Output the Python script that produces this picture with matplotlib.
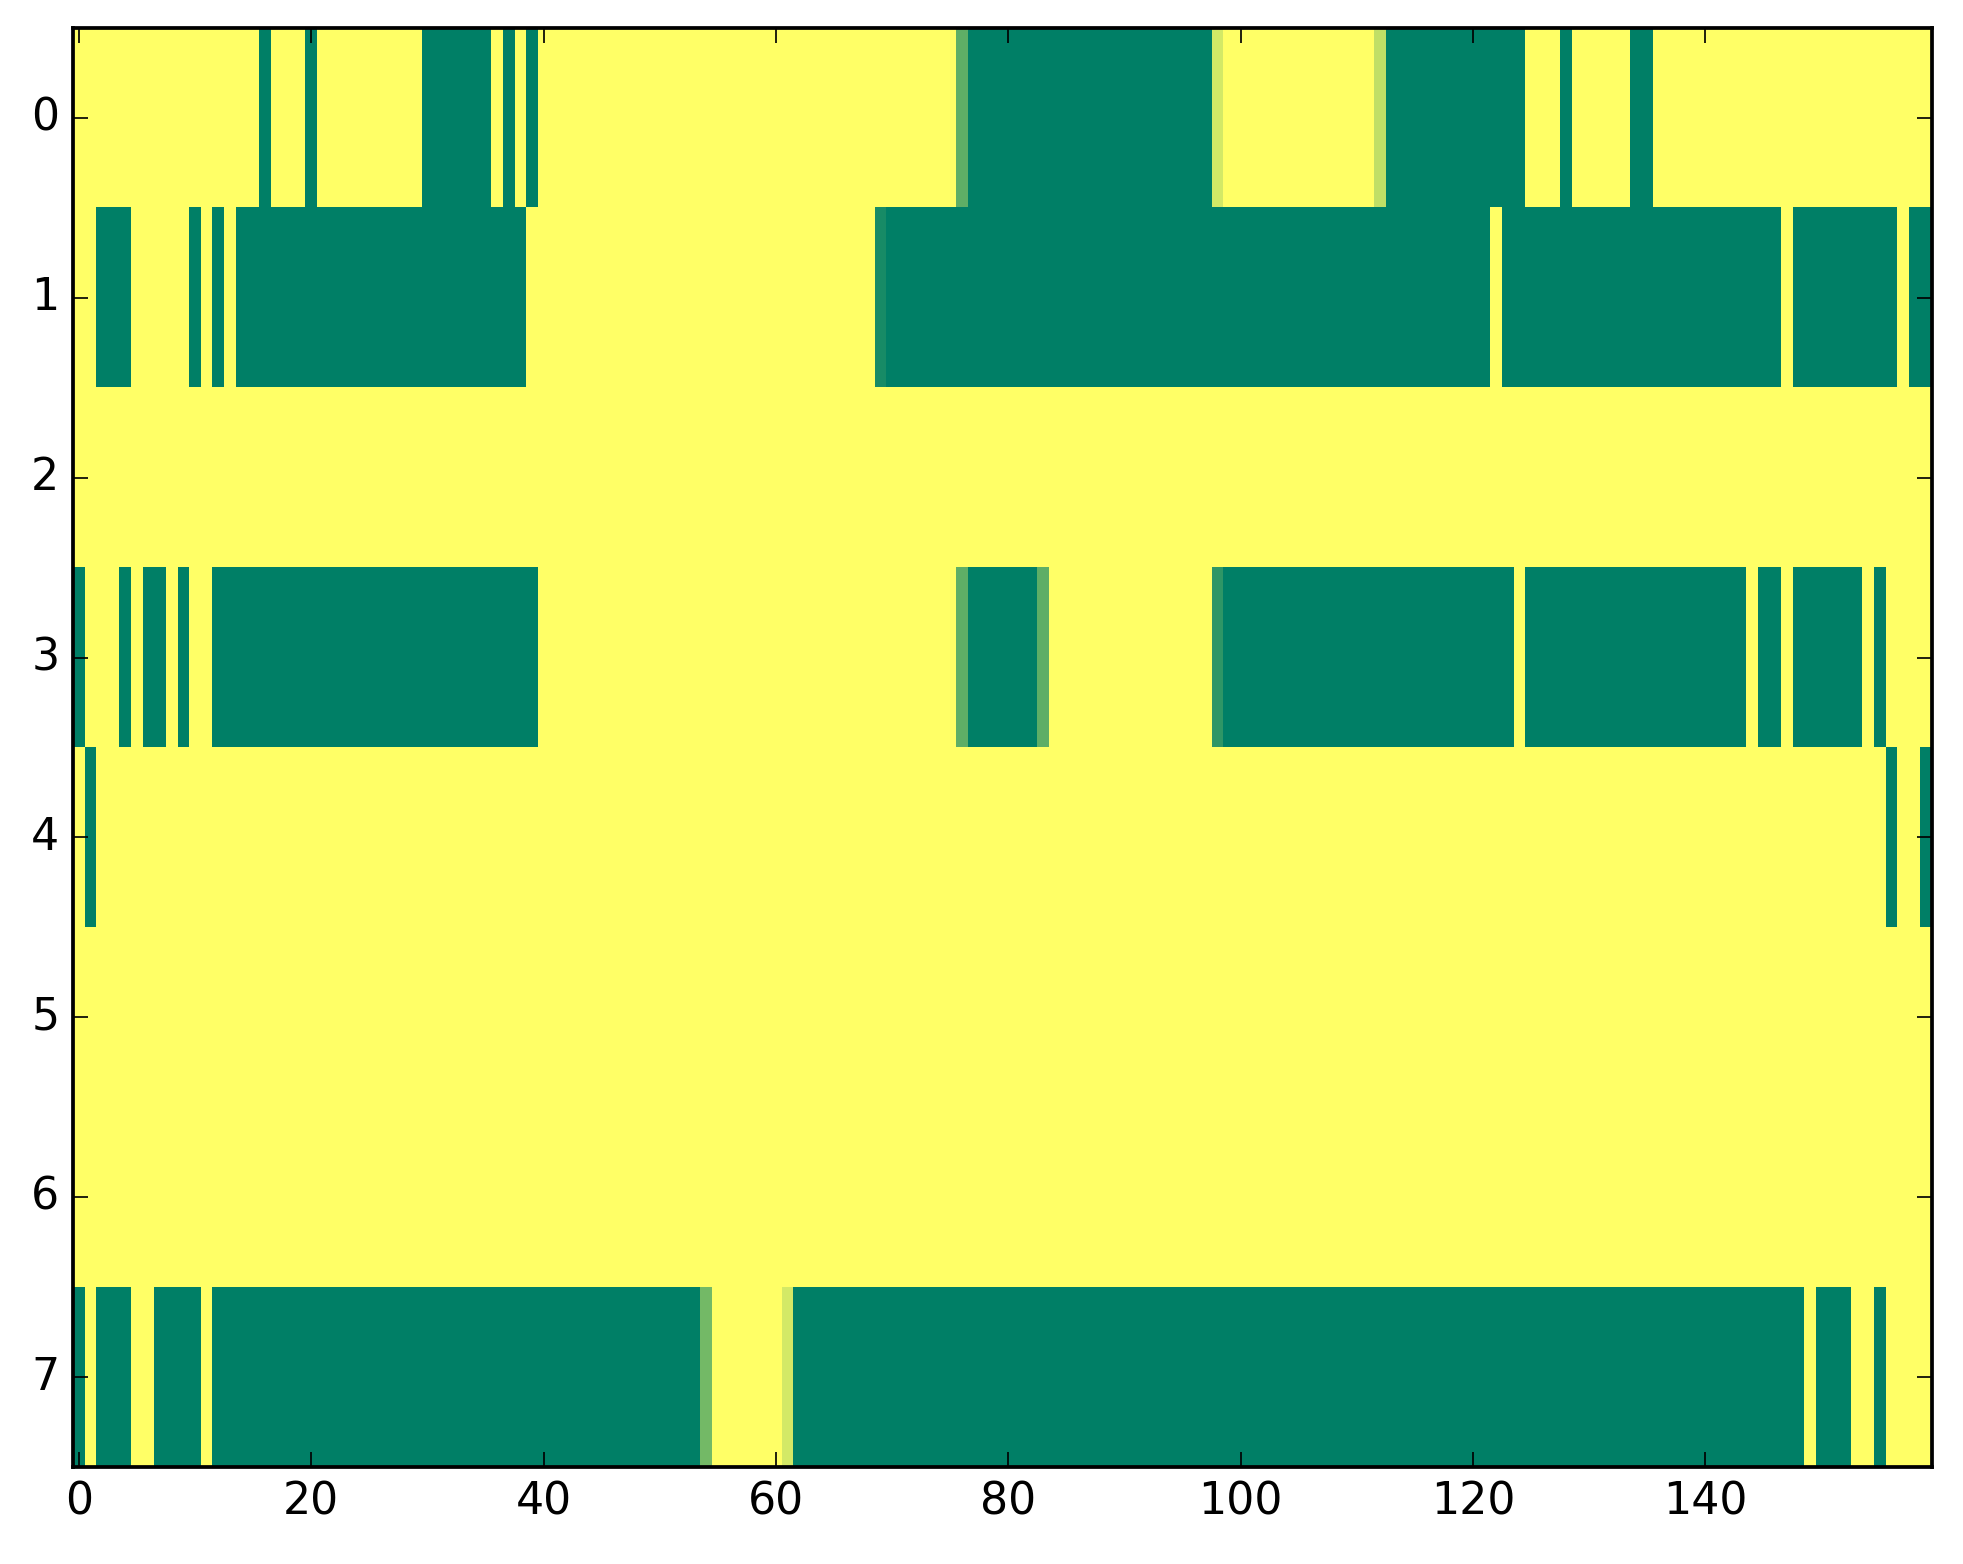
import numpy as np
import matplotlib.pyplot as plt

n_rows = 8
n_cols = 160

# runs of cells with value 0 in each row, (first, last) inclusive; everything else is 1
row0_zero = [(16, 16), (20, 20), (30, 35), (37, 37), (39, 39), (77, 97),
             (113, 124), (128, 128), (134, 135)]
row1_zero = [(2, 4), (10, 10), (12, 12), (14, 38), (70, 121), (123, 146),
             (148, 156), (158, 159)]
row2_zero = []
row3_zero = [(0, 0), (4, 4), (6, 7), (9, 9), (12, 39), (77, 82), (99, 123),
             (125, 143), (145, 146), (148, 153), (155, 155)]
row4_zero = [(1, 1), (156, 156), (159, 159)]
row5_zero = []
row6_zero = []
row7_zero = [(0, 0), (2, 4), (7, 10), (12, 53), (62, 148), (150, 152), (155, 155)]

# the few cells that sit between 0 and 1
row0_mid = {76: 0.37, 98: 0.83, 112: 0.75}
row1_mid = {69: 0.09}
row3_mid = {76: 0.37, 83: 0.37, 98: 0.18}
row7_mid = {54: 0.45, 61: 0.83}

zero_runs = [row0_zero, row1_zero, row2_zero, row3_zero,
             row4_zero, row5_zero, row6_zero, row7_zero]
mid_cells = [row0_mid, row1_mid, {}, row3_mid, {}, {}, {}, row7_mid]

grid = np.ones((n_rows, n_cols))
for r in range(n_rows):
    for a, b in zero_runs[r]:
        grid[r, a:b + 1] = 0.0
    for c, v in mid_cells[r].items():
        grid[r, c] = v

plt.style.use("classic")
fig = plt.figure(figsize=(8, 6.374), facecolor="white")
ax = fig.add_axes([73 / 1963, 1 - 1467 / 1564, (1932 - 73) / 1963, (1467 - 28) / 1564])
ax.imshow(grid, cmap="summer", interpolation="nearest", aspect="auto", vmin=0, vmax=1)
ax.set_xticks(np.arange(0, n_cols, 20))
ax.set_yticks(np.arange(n_rows))
ax.tick_params(labelsize=13, length=4.5)
for s in ax.spines.values():
    s.set_linewidth(1.1)

plt.savefig("out.png", dpi=245.375, facecolor="white")
